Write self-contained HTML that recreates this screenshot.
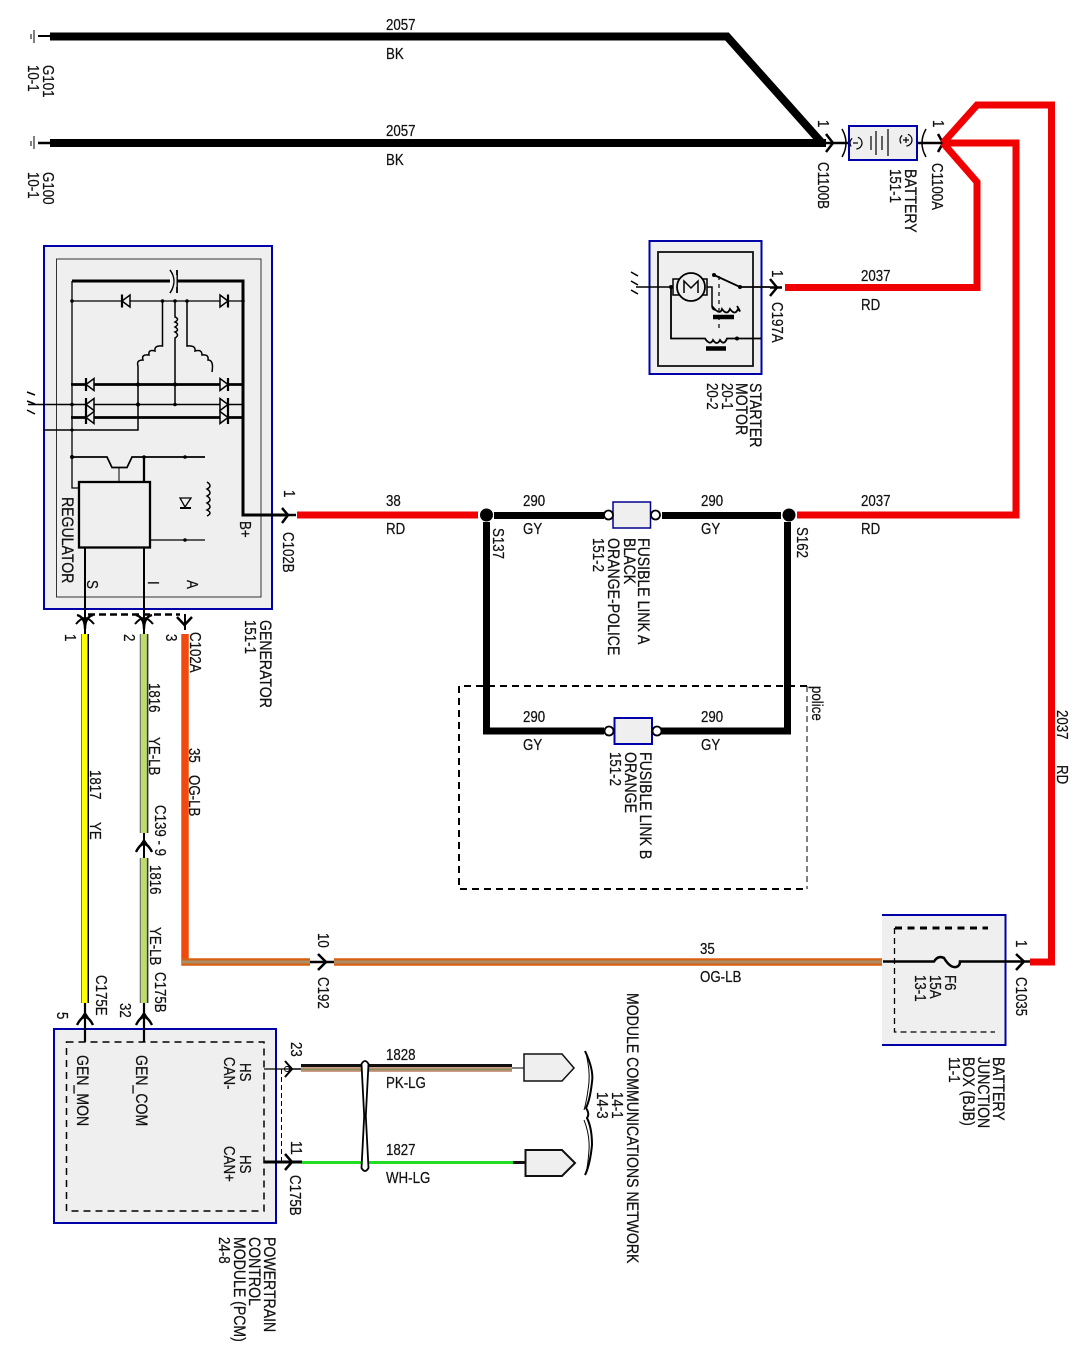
<!DOCTYPE html>
<html>
<head>
<meta charset="utf-8">
<style>
html,body{margin:0;padding:0;background:#fff}
svg{display:block}
text{font-family:"Liberation Sans",sans-serif;font-size:13.3px;fill:#111;stroke:#111;stroke-width:.2px}
text.w{font-size:14.1px}
.box{fill:#efefef;stroke:#0000a8;stroke-width:2}
.n{fill:none;stroke:#000}
</style>
</head>
<body>
<svg width="1090" height="1360" viewBox="0 0 1090 1360" xmlns="http://www.w3.org/2000/svg">
<defs>
<g id="dio"><path d="M-4 -6V6L4 0Z" fill="#efefef" stroke="#000" stroke-width="1.5"/><path d="M4 -6.5V6.5" stroke="#000" stroke-width="2.2"/></g>
<g id="dior"><path d="M4 -6V6L-4 0Z" fill="#efefef" stroke="#000" stroke-width="1.5"/><path d="M-4 -6.5V6.5" stroke="#000" stroke-width="2.2"/></g>
<g id="cd"><path d="M-8 -6Q0 -4 0 8Q0 -4 8 -6" fill="none" stroke="#000" stroke-width="2.4"/><path d="M-9 3Q-4 -3 0 -3Q4 -3 9 3" fill="none" stroke="#000" stroke-width="2"/></g>
<g id="cu"><path d="M-8 7Q-4 -1 0 -1Q4 -1 8 7" fill="none" stroke="#000" stroke-width="2.4"/><path d="M-4 1L0 -5L4 1" fill="none" stroke="#000" stroke-width="1.8"/></g>
</defs>

<!-- grounds and top black wires -->
<g class="n">
<path d="M34 30V43M31 34V39" stroke-width="1"/>
<path d="M38 36H50" stroke-width="2"/>
<path d="M34 136V149M31 141V146" stroke-width="1"/>
<path d="M38 143H50" stroke-width="2.5"/>
<path d="M50 36.500H727L822 143" stroke-width="8"/>
<path d="M50 143H826" stroke-width="8"/>
<path d="M826 143H849" stroke-width="2.500"/>
<path d="M826 134L833 143L826 152" stroke-width="2.500"/>
<path d="M842 129Q850 143 842 157" stroke-width="1.500"/>
<path d="M917 143H945" stroke-width="2.500"/>
<path d="M926 129Q918 143 926 157" stroke-width="1.500"/>
<path d="M938 134L943 143L938 152" stroke-width="2.500"/>
</g>

<!-- red wires -->
<g fill="none" stroke="#f00000" stroke-width="7">
<path d="M943 143L977 105H1051.500V962H1030"/>
<path d="M943 143H1016V515H797"/>
<path d="M943 143L977 182V287.500H785"/>
<path d="M297 515H478"/>
</g>

<!-- battery -->
<rect class="box" x="849" y="126" width="68" height="34" stroke-width="1.500"/>
<g class="n" stroke-width="1.200">
<path d="M871 136V150M876 131V155M882 136V150M888 129V156" />
<circle cx="856" cy="143" r="6" stroke-dasharray="9 6"/><path d="M853 143h5"/>
<circle cx="906" cy="140" r="6" stroke-dasharray="9 6"/><path d="M903 140h6M906 137v6"/>
</g>

<!-- starter motor -->
<rect class="box" x="649.500" y="241" width="112" height="133"/>
<rect x="658" y="252" width="95" height="114" fill="#efefef" stroke="#111" stroke-width="1.800"/>
<g class="n">
<path d="M636 287H672" stroke-width="1.500"/>
<path d="M631 272l7 4M631 281l7 4M631 290l7 4" stroke-width="1.500"/>
<rect x="673" y="279" width="34" height="16" fill="#efefef" stroke-width="1.500"/>
<circle cx="691" cy="287" r="14" fill="#efefef" stroke-width="1.800"/>
<path d="M684 293V281L691 288L698 281V293" stroke-width="1.500"/>
<path d="M707 287H712V306Q712 310 716 310" stroke-width="1.500"/>
<path d="M714 275L740 287H770" stroke-width="1.800"/>
<path d="M719 276V332" stroke-width="1.200" stroke-dasharray="4 4"/>
<path d="M712 306Q720 316 722 309Q727 316 730 309Q735 316 738 309Q742 314 737 306" stroke-width="1.800"/>
<path d="M713 317H734" stroke-width="4.500"/>
<path d="M671 287V338.500H705Q710 346 713 340Q717 346 720 340Q724 346 727 338.500H761" stroke-width="1.800"/>
<path d="M706 348.500H726" stroke-width="4.500"/>
<path d="M770 287.500H782" stroke-width="2.500"/>
<path d="M770 279L777 287.500L770 296" stroke-width="2.500"/>
</g>
<circle cx="714" cy="275" r="2" /><circle cx="740" cy="287" r="2"/><circle cx="737" cy="338.500" r="2"/><circle cx="671" cy="287" r="2"/>

<!-- generator -->
<rect class="box" x="44" y="246" width="228" height="363"/>
<rect x="56.500" y="259" width="204.500" height="338" fill="#efefef" stroke="#333" stroke-width="1"/>
<g class="n">
<path d="M72 281H243V515H285" stroke-width="3"/>
<path d="M72 281V488H79" stroke-width="1.300"/>
<path d="M170 270Q178 281 170 293" stroke-width="1.300" fill="#fff"/>
<path d="M177 270V293" stroke-width="1.800"/>
<rect x="171" y="275" width="5.500" height="12" fill="#efefef" stroke="none"/>
<path d="M170 270Q178 281 170 293" stroke-width="1.300"/>
<path d="M72 301H243" stroke-width="1.300"/>
<path d="M162.500 301V346Q154 345 155 351Q148 349 149 355Q141 354 143 360Q136 360 138 366V430H44" stroke-width="1.500"/>
<path d="M175 301V317Q180 319 175 322Q180 324 175 327Q180 330 175 332Q180 335 175 338V404" stroke-width="1.500"/>
<path d="M187 301V346Q196 345 195 351Q202 349 202 355Q209 354 208 360Q214 360 212 372" stroke-width="1.500"/>
<path d="M71 384.500H243" stroke-width="2.800"/>
<path d="M28 404.500H243" stroke-width="1.500"/>
<path d="M71 417.500H243" stroke-width="2.800"/>
<path d="M27 392l8 3M27 401l8 3M27 410l8 4" stroke-width="1.500"/>
<path d="M72 457H107L112 467.500H127L132 457H205" stroke-width="1.700"/>
<path d="M119 468V482" stroke-width="1"/>
<path d="M144 457V482" stroke-width="2.300"/>
<rect x="79" y="482" width="71" height="65.500" fill="#efefef" stroke-width="2.300"/>
<path d="M150 540H205" stroke-width="1.200"/>
<path d="M207 482Q213 486 207 489Q213 493 207 496Q213 500 207 503Q213 507 207 510Q213 513 207 516" stroke-width="1.500"/>
<path d="M180 498H191L185 507Z" fill="#efefef" stroke-width="1.300"/>
<path d="M180 508H191" stroke-width="2"/>
<path d="M85 547.500V634M144 547.500V634" stroke-width="2"/>
<path d="M88 614.500H180" stroke-width="2.500" stroke-dasharray="7 4"/>
<path d="M185 614V630" stroke-width="2"/>
<path d="M284 515H296" stroke-width="2.500"/>
<path d="M282 508L288 515L282 523" stroke-width="2.500"/>
</g>
<g fill="#000">
<circle cx="72" cy="301" r="1.800"/><circle cx="243" cy="301" r="1.800"/><circle cx="162.500" cy="301" r="1.800"/><circle cx="175" cy="301" r="1.800"/><circle cx="187" cy="301" r="1.800"/>
<circle cx="138" cy="384.500" r="2"/><circle cx="175" cy="384.500" r="2"/><circle cx="138" cy="404.500" r="2"/><circle cx="175" cy="404.500" r="1.800"/><circle cx="72" cy="404.500" r="1.800"/><circle cx="72" cy="430" r="1.600"/><circle cx="72" cy="457" r="2"/><circle cx="144" cy="457" r="1.800"/><circle cx="185" cy="457" r="1.800"/><circle cx="185" cy="540" r="1.800"/>
</g>
<use href="#dior" x="126" y="301"/>
<use href="#dio" x="224" y="301"/>
<use href="#dior" x="90" y="384.500"/><use href="#dior" x="90" y="404.500"/><use href="#dior" x="90" y="417.500"/>
<use href="#dio" x="224" y="384.500"/><use href="#dio" x="224" y="404.500"/><use href="#dio" x="224" y="417.500"/>
<use href="#cd" x="85" y="621"/><use href="#cd" x="144" y="621"/>
<path d="M177 617L184.500 625L192 617" fill="none" stroke="#000" stroke-width="2.500"/>

<!-- lower wires from generator -->
<path d="M85 634V1003" stroke="#000" stroke-width="8"/>
<path d="M84.500 634V1003" stroke="#ffff00" stroke-width="6"/>
<g fill="none">
<path d="M144 634V833M144 858V1003" stroke="#666" stroke-width="8.500"/>
<path d="M147.800 634V833M147.800 858V1003" stroke="#222" stroke-width="1"/>
<path d="M143.800 634V833M143.800 858V1003" stroke="#bddc6c" stroke-width="6"/>
<path d="M144 833V858" stroke="#000" stroke-width="2"/>
</g>
<use href="#cu" x="144" y="845"/>
<path d="M185 634V962H310M334 962H883" fill="none" stroke="#d95f10" stroke-width="7.500"/>
<path d="M185 634V958" fill="none" stroke="#f24a0e" stroke-width="7"/>
<path d="M182 962H310M334 962H883" fill="none" stroke="#a98e66" stroke-width="3"/>
<path d="M310 962H334" stroke="#000" stroke-width="2.500"/>
<path d="M318 954L326 962L318 970" fill="none" stroke="#000" stroke-width="2.500"/>

<!-- BJB -->
<path d="M882 915H1005.500V1045H882V915" fill="#efefef" stroke="none"/>
<path d="M882 915H1005.500V1045H882" fill="none" stroke="#0000a8" stroke-width="2"/>
<path d="M895 928H988" class="n" stroke-width="3" stroke-dasharray="7 5.500"/>
<path d="M894.500 928V1032H995" class="n" stroke-width="1.300" stroke-dasharray="6 4"/>
<path d="M883 961.500H934Q938 955 944 958Q950 968 956 967Q960 966 960 961.500H1030" class="n" stroke-width="2.500"/>
<path d="M1016 954L1024 961.500L1016 970" class="n" stroke-width="2.500"/>

<!-- main black gray wires & splices -->
<g class="n" stroke-width="7">
<path d="M494 515.500H604M662 515.500H781"/>
<path d="M486.500 522V731H604M660 731H787.500V522"/>
</g>
<circle cx="486.500" cy="515" r="6.500"/><circle cx="789" cy="515" r="6.500"/>
<rect x="613" y="502" width="37.500" height="26" fill="#efefef" stroke="#00008c" stroke-width="1.500"/>
<circle cx="608.500" cy="515" r="4.500" fill="#fff" stroke="#000" stroke-width="1.800"/>
<circle cx="655.500" cy="515" r="4.500" fill="#fff" stroke="#000" stroke-width="1.800"/>
<rect x="614.500" y="718" width="37.500" height="26" fill="#efefef" stroke="#0000a8" stroke-width="2"/>
<circle cx="609" cy="731" r="4.500" fill="#fff" stroke="#000" stroke-width="1.800"/>
<circle cx="657" cy="731" r="4.500" fill="#fff" stroke="#000" stroke-width="1.800"/>

<!-- police dashed -->
<path d="M807 686H459V889H805" class="n" stroke-width="2" stroke-dasharray="7 5"/>
<path d="M807 686V889" class="n" stroke-width="1" stroke-dasharray="6 4"/>

<!-- PCM -->
<rect class="box" x="54" y="1029" width="222" height="194"/>
<rect x="66.500" y="1042" width="197.500" height="169" fill="none" stroke="#000" stroke-width="1.500" stroke-dasharray="7 5"/>
<g class="n">
<path d="M85 1003V1042M144 1003V1042" stroke-width="2.200"/>
<path d="M264 1069H292" stroke-width="1.200"/>
<path d="M264 1162H302" stroke-width="3"/>
<path d="M281.500 1069V1162" stroke-width="1" stroke-dasharray="5 3"/>
<path d="M285 1061L292 1069L285 1077" stroke-width="2"/>
<path d="M285 1154L292 1162L285 1170" stroke-width="2.500"/>
<path d="M292 1069H301" stroke-width="1.500"/>
</g>
<use href="#cu" x="85" y="1018"/><use href="#cu" x="144" y="1018"/>
<circle cx="287" cy="1069" r="2.500" fill="none" stroke="#000"/>

<!-- CAN wires -->
<rect x="301" y="1064" width="211" height="3" fill="#111"/>
<rect x="301" y="1067" width="211" height="5" fill="#d09c88"/>
<rect x="301" y="1068.500" width="211" height="2" fill="#8c8c5c"/>
<path d="M512 1068H524" class="n" stroke-width="1"/>
<path d="M302 1162.500H513" stroke="#22dd22" stroke-width="3"/>
<path d="M513 1162.500H525" stroke="#111" stroke-width="3"/>
<path d="M524 1054H562L574 1068L562 1081H524Z" fill="#efefef" stroke="#111" stroke-width="1.500"/>
<path d="M525.500 1150H562L575 1163L562 1176H525.500Z" fill="#efefef" stroke="#111" stroke-width="2"/>
<path d="M361.500 1064Q365 1058 368.500 1064L365.800 1116L368.500 1168Q365 1174 361.500 1168L364.200 1116Z" fill="#fff" stroke="#000" stroke-width="1.800"/>
<path d="M585 1051Q594 1070 592 1082Q590 1100 586 1108Q590 1114 587 1118Q592 1128 592 1145Q590 1165 585 1175" fill="none" stroke="#000" stroke-width="2"/>
<path d="M586 1053Q590 1070 589 1082Q587 1100 584 1110" fill="none" stroke="#000" stroke-width="1"/>
<path d="M584 1120Q590 1135 589 1150Q588 1165 586 1173" fill="none" stroke="#000" stroke-width="1"/>

<!-- horizontal labels -->
<text transform="matrix(1 0 0 1.16 386 30)">2057</text><text transform="matrix(1 0 0 1.16 386 59)">BK</text>
<text transform="matrix(1 0 0 1.16 386 136)">2057</text><text transform="matrix(1 0 0 1.16 386 165)">BK</text>
<text transform="matrix(1 0 0 1.16 861 281)">2037</text><text transform="matrix(1 0 0 1.16 861 310)">RD</text>
<text transform="matrix(1 0 0 1.16 386 506)">38</text><text transform="matrix(1 0 0 1.16 386 534)">RD</text>
<text transform="matrix(1 0 0 1.16 523 506)">290</text><text transform="matrix(1 0 0 1.16 523 534)">GY</text>
<text transform="matrix(1 0 0 1.16 701 506)">290</text><text transform="matrix(1 0 0 1.16 701 534)">GY</text>
<text transform="matrix(1 0 0 1.16 861 506)">2037</text><text transform="matrix(1 0 0 1.16 861 534)">RD</text>
<text transform="matrix(1 0 0 1.16 523 722)">290</text><text transform="matrix(1 0 0 1.16 523 750)">GY</text>
<text transform="matrix(1 0 0 1.16 701 722)">290</text><text transform="matrix(1 0 0 1.16 701 750)">GY</text>
<text transform="matrix(1 0 0 1.16 700 954)">35</text><text transform="matrix(1 0 0 1.16 700 982)">OG-LB</text>
<text transform="matrix(1 0 0 1.16 386 1060)">1828</text><text transform="matrix(1 0 0 1.16 386 1088)">PK-LG</text>
<text transform="matrix(1 0 0 1.16 386 1155)">1827</text><text transform="matrix(1 0 0 1.16 386 1183)">WH-LG</text>

<!-- rotated labels -->
<text transform="matrix(0 1 -1.16 0 43 65)">G101</text>
<text transform="matrix(0 1 -1.16 0 28 65)">10-1</text>
<text transform="matrix(0 1 -1.16 0 43 172)">G100</text>
<text transform="matrix(0 1 -1.16 0 28 172)">10-1</text>
<text transform="matrix(0 1 -1.16 0 818 120)">1</text>
<text transform="matrix(0 1 -1.16 0 818 162)">C1100B</text>
<text transform="matrix(0 1 -1.16 0 933 120)">1</text>
<text transform="matrix(0 1 -1.16 0 932 163)">C1100A</text>
<text class="w" transform="matrix(0 1 -1.16 0 905 169)">BATTERY</text>
<text transform="matrix(0 1 -1.16 0 890 169)">151-1</text>
<text transform="matrix(0 1 -1.16 0 772 270)">1</text>
<text transform="matrix(0 1 -1.16 0 772 302)">C197A</text>
<text class="w" transform="matrix(0 1 -1.16 0 750 383)">STARTER</text>
<text class="w" transform="matrix(0 1 -1.16 0 736 383)">MOTOR</text>
<text transform="matrix(0 1 -1.16 0 722 383)">20-1</text>
<text transform="matrix(0 1 -1.16 0 707 383)">20-2</text>
<text class="w" transform="matrix(0 1 -1.16 0 62 497)">REGULATOR</text>
<text transform="matrix(0 1 -1.16 0 87 580)">S</text>
<text transform="matrix(0 1 -1.16 0 148 581)">I</text>
<text transform="matrix(0 1 -1.16 0 187 580)">A</text>
<text transform="matrix(0 1 -1.16 0 240 521)">B+</text>
<text transform="matrix(0 1 -1.16 0 284 490)">1</text>
<text transform="matrix(0 1 -1.16 0 283 532)">C102B</text>
<text transform="matrix(0 1 -1.16 0 493 528)">S137</text>
<text transform="matrix(0 1 -1.16 0 797 527)">S162</text>
<text class="w" transform="matrix(0 1 -1.16 0 638 538)">FUSIBLE LINK A</text>
<text class="w" transform="matrix(0 1 -1.16 0 624 538)">BLACK</text>
<text class="w" transform="matrix(0 1 -1.16 0 608 538)">ORANGE-POLICE</text>
<text transform="matrix(0 1 -1.16 0 593 538)">151-2</text>
<text class="w" transform="matrix(0 1 -1.16 0 640 752)">FUSIBLE LINK B</text>
<text class="w" transform="matrix(0 1 -1.16 0 625 752)">ORANGE</text>
<text transform="matrix(0 1 -1.16 0 610 752)">151-2</text>
<text transform="matrix(0 1 -1.16 0 812 686)">police</text>
<text transform="matrix(0 1 -1.16 0 1057 710)">2037</text>
<text transform="matrix(0 1 -1.16 0 1057 765)">RD</text>
<text class="w" transform="matrix(0 1 -1.16 0 260 620)">GENERATOR</text>
<text transform="matrix(0 1 -1.16 0 245 620)">151-1</text>
<text transform="matrix(0 1 -1.16 0 65 634)">1</text>
<text transform="matrix(0 1 -1.16 0 124 634)">2</text>
<text transform="matrix(0 1 -1.16 0 166 634)">3</text>
<text transform="matrix(0 1 -1.16 0 190 632)">C102A</text>
<text transform="matrix(0 1 -1.16 0 149 683)">1816</text>
<text transform="matrix(0 1 -1.16 0 149 737)">YE-LB</text>
<text transform="matrix(0 1 -1.16 0 189 748)">35</text>
<text transform="matrix(0 1 -1.16 0 189 775)">OG-LB</text>
<text transform="matrix(0 1 -1.16 0 90 770)">1817</text>
<text transform="matrix(0 1 -1.16 0 90 822)">YE</text>
<text transform="matrix(0 1 -1.16 0 155 805)">C139 - 9</text>
<text transform="matrix(0 1 -1.16 0 150 865)">1816</text>
<text transform="matrix(0 1 -1.16 0 150 927)">YE-LB</text>
<text transform="matrix(0 1 -1.16 0 155 972)">C175B</text>
<text transform="matrix(0 1 -1.16 0 96 975)">C175E</text>
<text transform="matrix(0 1 -1.16 0 57 1012)">5</text>
<text transform="matrix(0 1 -1.16 0 120 1003)">32</text>
<text transform="matrix(0 1 -1.16 0 318 933)">10</text>
<text transform="matrix(0 1 -1.16 0 318 977)">C192</text>
<text transform="matrix(0 1 -1.16 0 945 975)">F6</text>
<text transform="matrix(0 1 -1.16 0 930 975)">15A</text>
<text transform="matrix(0 1 -1.16 0 915 975)">13-1</text>
<text transform="matrix(0 1 -1.16 0 1016 940)">1</text>
<text transform="matrix(0 1 -1.16 0 1016 977)">C1035</text>
<text class="w" transform="matrix(0 1 -1.16 0 993 1057)">BATTERY</text>
<text class="w" transform="matrix(0 1 -1.16 0 978 1057)">JUNCTION</text>
<text class="w" transform="matrix(0 1 -1.16 0 963 1057)">BOX (BJB)</text>
<text transform="matrix(0 1 -1.16 0 949 1057)">11-1</text>
<text class="w" transform="matrix(0 1 -1.16 0 627 993)">MODULE COMMUNICATIONS NETWORK</text>
<text transform="matrix(0 1 -1.16 0 612 1092)">14-1</text>
<text transform="matrix(0 1 -1.16 0 597 1092)">14-3</text>
<text class="w" transform="matrix(0 1 -1.16 0 77 1055)">GEN_MON</text>
<text class="w" transform="matrix(0 1 -1.16 0 136 1055)">GEN_COM</text>
<text transform="matrix(0 1 -1.16 0 240 1063)">HS</text>
<text transform="matrix(0 1 -1.16 0 224 1057)">CAN-</text>
<text transform="matrix(0 1 -1.16 0 240 1155)">HS</text>
<text transform="matrix(0 1 -1.16 0 224 1146)">CAN+</text>
<text transform="matrix(0 1 -1.16 0 291 1042)">23</text>
<text transform="matrix(0 1 -1.16 0 291 1141)">11</text>
<text transform="matrix(0 1 -1.16 0 290 1175)">C175B</text>
<text class="w" transform="matrix(0 1 -1.16 0 264 1237)">POWERTRAIN</text>
<text class="w" transform="matrix(0 1 -1.16 0 249 1237)">CONTROL</text>
<text class="w" transform="matrix(0 1 -1.16 0 234 1237)">MODULE (PCM)</text>
<text transform="matrix(0 1 -1.16 0 219 1237)">24-8</text>
</svg>
</body>
</html>
